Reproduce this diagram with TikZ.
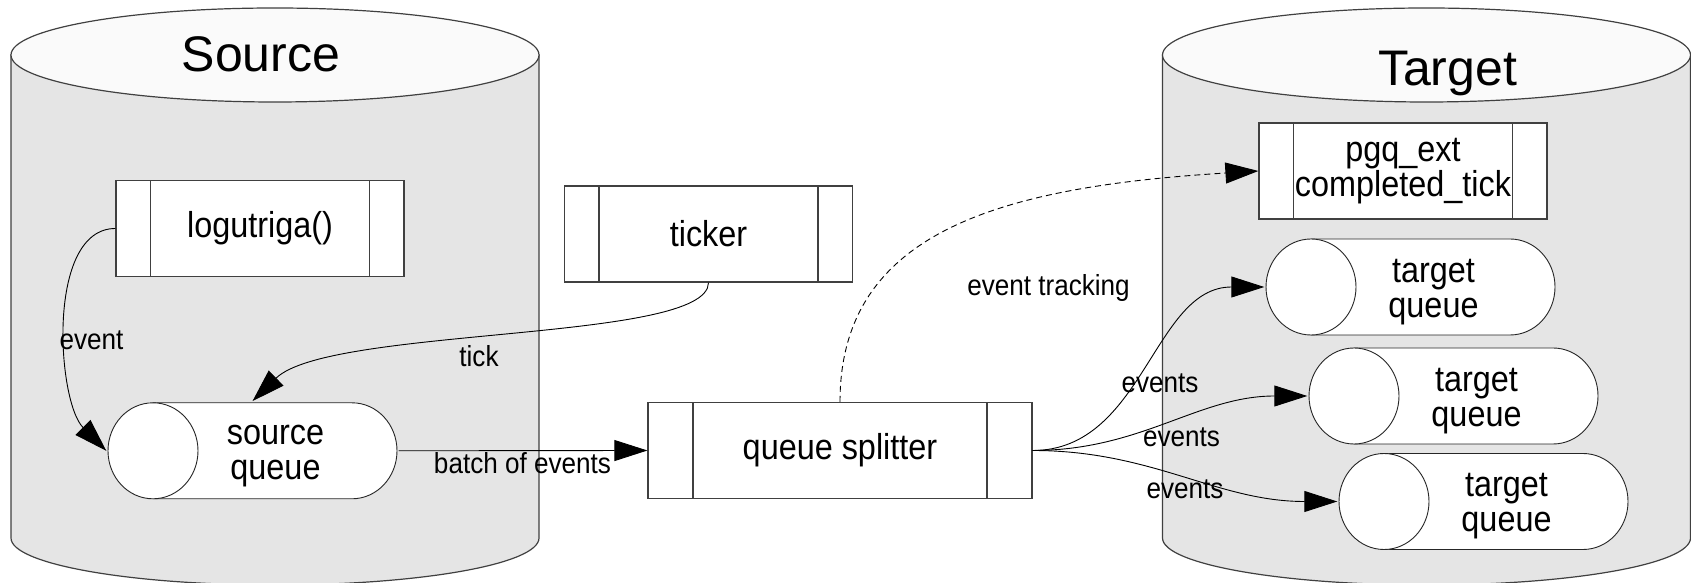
\documentclass[tikz,border=0pt]{standalone}
\usepackage{fontspec}
\setmainfont{Liberation Sans}
\newfontfamily\narrowsf{Liberation Sans}[FakeStretch=0.9]
\usetikzlibrary{arrows.meta,calc}

\begin{document}
\begin{tikzpicture}[x=1pt, y=1pt,
    outline/.style={draw=black!75, line width=1.2pt},
    qline/.style={draw=black!85, fill=white, line width=0.9pt},
    txt/.style={font={\narrowsf\fontsize{36}{35}\selectfont\lineskiplimit=-100pt}, align=center},
    lbl/.style={font={\narrowsf\fontsize{29}{29}\selectfont}, anchor=base, inner sep=0pt},
    title/.style={font={\fontsize{50}{50}\selectfont}, anchor=base, inner sep=0pt},
    proc/.style={outline, fill=white, txt, inner sep=0pt,
      minimum width=288pt, minimum height=96pt,
      path picture={
        \draw[outline] ([xshift=#1]path picture bounding box.north west)
          -- ([xshift=#1]path picture bounding box.south west);
        \draw[outline] ([xshift=-#1]path picture bounding box.north east)
          -- ([xshift=-#1]path picture bounding box.south east);
      }},
    proc/.default=34.5pt,
    queue/.style={rectangle, inner sep=0pt, minimum width=292pt, minimum height=99pt,
      path picture={
        \coordinate (qc) at (path picture bounding box.center);
        \filldraw[qline] ($(qc)+(-99.5,48)$) -- ($(qc)+(99.5,48)$)
          arc[start angle=90, end angle=-90, x radius=45, y radius=48]
          -- ($(qc)+(-99.5,-48)$) -- cycle;
        \filldraw[qline] (qc) ++(-99.5,0) ellipse[x radius=45, y radius=48];
      }},
    conn/.style={-{Triangle[length=33pt, width=21pt]}, line width=0.9pt},
  ]
  \useasboundingbox (0,0) rectangle (1691,583);
  \clip (0,0) rectangle (1691,583);

  % the two databases
  \foreach \cx in {275,1426.5} {
    \filldraw[outline, fill=gray!20]
      (\cx-264,528) -- (\cx-264,45)
      arc[start angle=180, end angle=360, x radius=264, y radius=47]
      -- (\cx+264,528) -- cycle;
    \filldraw[outline, fill=black!2] (\cx,528) ellipse[x radius=264, y radius=47];
  }
  \node[title] (srctitle) at (261,511) {Source};
  \node[title] (tgttitle) at (1447.5,497.5) {Target};

  % processes
  \node[proc] (logutriga) at (260,354.5) {logutriga()};
  \node[proc] (ticker) at (708.5,349) {ticker};
  \node[proc=45pt, minimum width=384pt] (splitter) at (840,132.5) {queue splitter};
  \node[proc] (pgq) at (1403,412) {pgq\_ext\\completed\_tick};

  % queues
  \node[queue] (srcq) at (252.5,132.2) {};
  \node[txt] (srcqtxt) at ($(srcq)+(23,-5)$) {source\\queue};
  \node[queue] (tq1) at (1410.5,296) {};
  \node[txt] (tq1txt) at ($(tq1)+(23,-5)$) {target\\queue};
  \node[queue] (tq2) at (1453.5,187) {};
  \node[txt] (tq2txt) at ($(tq2)+(23,-5)$) {target\\queue};
  \node[queue] (tq3) at (1483.5,81.5) {};
  \node[txt] (tq3txt) at ($(tq3)+(23,-5)$) {target\\queue};

  % flows
  \draw[conn] (logutriga.west) to[out=180, in=135, looseness=.8] (srcq.west);
  \draw[conn] (ticker.south) .. controls +(0,-60) and +(77,75) .. (srcq.north);
  \draw[conn] (srcq.east) -- (splitter.west);
  \draw[conn, dash pattern=on 6pt off 4pt]
    (splitter.north) .. controls +(0,170) and +(-259,-16) .. (pgq.west);
  \foreach \q in {tq1,tq2,tq3}
    \draw[conn] (splitter.east) to[out=0, in=180] (\q.west);

  \node[lbl] (evlbl) at (91.5,233.5) {event};
  \node[lbl] (ticklbl) at (479,216) {tick};
  \node[lbl] (batchlbl) at (522.5,109) {batch of events};
  \node[lbl] (tracklbl) at (1048.5,287) {event tracking};
  \node[lbl] (evs1) at (1160,190) {events};
  \node[lbl] (evs2) at (1181.5,136) {events};
  \node[lbl] (evs3) at (1185,84) {events};
\end{tikzpicture}
\end{document}
